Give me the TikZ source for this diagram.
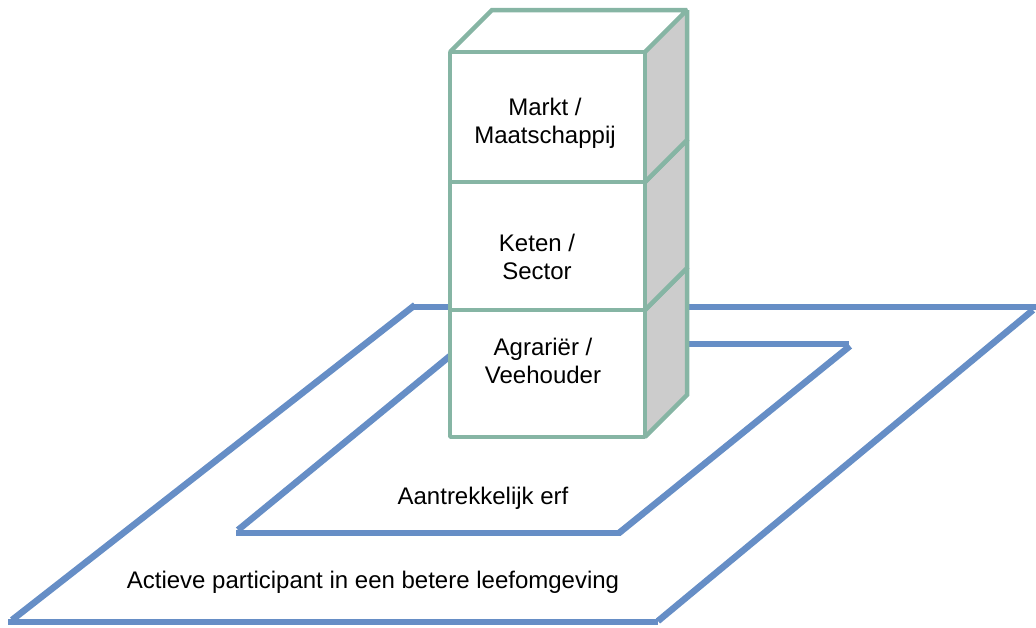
\documentclass[tikz,border=0pt]{standalone}
\usepackage{fontspec}
\setmainfont{Liberation Sans}
\definecolor{planeblue}{RGB}{102,142,198}
\definecolor{cubegreen}{RGB}{134,181,164}
\definecolor{sidegray}{RGB}{204,204,204}
\begin{document}
\begin{tikzpicture}[x=1pt,y=-1pt,
  plane/.style={draw=planeblue,line width=6.5pt,line cap=butt},
  cubeline/.style={draw=cubegreen,line width=4.5pt,line join=miter,miter limit=1.2},
  lbl/.style={font=\fontsize{24}{28}\selectfont,align=center,inner sep=0pt}]
\useasboundingbox (0,0) rectangle (1036,627);
% outer plane
\coordinate (o1) at (413,307);
\coordinate (o2) at (1036,307);
\coordinate (o3) at (1033,310);
\coordinate (o4) at (658,621);
\coordinate (o5) at (658,622);
\coordinate (o6) at (8,622);
\coordinate (o7) at (12,620);
\coordinate (o8) at (415,305);
\draw[plane] (o1) -- (o2);
\draw[plane] (o3) -- (o4);
\draw[plane] (o5) -- (o6);
\draw[plane] (o7) -- (o8);
% inner plane
\coordinate (i1) at (465,344);
\coordinate (i2) at (849,344);
\coordinate (i3) at (850,346);
\coordinate (i4) at (619,533);
\coordinate (i5) at (621,533);
\coordinate (i6) at (236,533);
\coordinate (i7) at (238,530);
\coordinate (i8) at (467,342);
\draw[plane] (i1) -- (i2);
\draw[plane] (i3) -- (i4);
\draw[plane] (i5) -- (i6);
\draw[plane] (i7) -- (i8);
% cubes (bottom to top)
\foreach \t/\b in {310/437,182/310,52/182}{
  \fill[white] (450,\t) rectangle (645,\b);
  \fill[white] (450,\t) -- (492,\t-42) -- (687,\t-42) -- (645,\t) -- cycle;
  \fill[sidegray] (645,\t) -- (687,\t-42) -- (687,\b-42) -- (645,\b) -- cycle;
  \draw[cubeline] (450,\t) rectangle (645,\b);
  \draw[cubeline] (450,\t) -- (492,\t-42) -- (687,\t-42) -- (645,\t);
  \draw[cubeline] (687,\t-42) -- (687,\b-42) -- (645,\b);
}
% labels
\node[lbl] (markt) at (545,123) {Markt /\\Maatschappij};
\node[lbl] (keten) at (537,257) {Keten /\\Sector};
\node[lbl] (agrarier) at (543,361) {Agrariër /\\Veehouder};
\node[lbl,anchor=base] (erf) at (483,504) {Aantrekkelijk erf};
\node[lbl,anchor=base] (actief) at (373,588) {Actieve participant in een betere leefomgeving};
\end{tikzpicture}
\end{document}
